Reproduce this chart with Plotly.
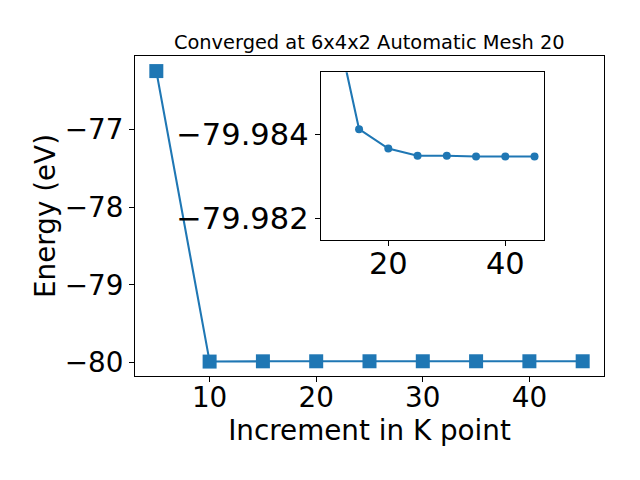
import plotly.graph_objects as go

kpoints = [5, 10, 15, 20, 25, 30, 35, 40, 45]
energies = [-76.249, -79.9873, -79.98412, -79.98366, -79.98349, -79.98349, -79.98347, -79.98347, -79.98347]

inset_k = kpoints[1:]
inset_e = energies[1:]

title_text = "Converged at 6x4x2 Automatic Mesh 20"
xlabel = "Increment in K point"
ylabel = "Energy (eV)"

blue = "#1f77b4"
FONT = "DejaVu Sans"

fig = go.Figure()
fig.add_trace(go.Scatter(
    x=kpoints, y=energies, mode="lines+markers",
    line=dict(color=blue, width=2.1),
    marker=dict(symbol="square", size=14, color=blue),
    xaxis="x", yaxis="y", showlegend=False,
))
fig.add_trace(go.Scatter(
    x=inset_k, y=inset_e, mode="lines+markers",
    line=dict(color=blue, width=2.1),
    marker=dict(symbol="circle", size=8, color=blue),
    xaxis="x2", yaxis="y2", showlegend=False,
))

def axis_style(fsize, standoff=0):
    return dict(
        showline=True, linecolor="black", linewidth=1, mirror=True,
        ticks="outside", ticklen=5, tickwidth=1, tickcolor="black",
        showgrid=False, zeroline=False, automargin=False,
        ticklabelstandoff=standoff,
        tickfont=dict(family=FONT, size=fsize, color="black"),
    )

fig.update_layout(
    width=640, height=480,
    paper_bgcolor="white", plot_bgcolor="white",
    margin=dict(l=135, r=36, t=56, b=104),
    font=dict(family=FONT, color="black"),
    title=dict(text=title_text, x=0.577, xanchor="center",
               y=1 - 42 / 480, yanchor="middle",
               font=dict(family=FONT, size=19.4, color="black")),
    xaxis=dict(domain=[0, 1], range=[3.0, 47.0], tickvals=[10, 20, 30, 40],
               title=dict(text=xlabel, font=dict(family=FONT, size=27.8), standoff=2),
               anchor="y", **axis_style(27.8, -8)),
    yaxis=dict(domain=[0, 1], range=[-80.173, -76.055], tickvals=[-80, -79, -78, -77],
               title=dict(text=ylabel, font=dict(family=FONT, size=27.8), standoff=1),
               anchor="x", **axis_style(27.8)),
    xaxis2=dict(domain=[(320.7 - 135) / 469, (544.3 - 135) / 469], range=[8.44, 46.67],
                tickvals=[20, 40], anchor="y2", **axis_style(30.5, -9)),
    yaxis2=dict(domain=[(376 - 240) / 320, (376 - 72.3) / 320],
                range=[-79.98149, -79.98547], tickvals=[-79.984, -79.982],
                tickformat=".3f", anchor="x2", **axis_style(30.5)),
)

fig.write_html("out.html", config={"displayModeBar": False},
               post_script="document.body.style.margin='0';")
